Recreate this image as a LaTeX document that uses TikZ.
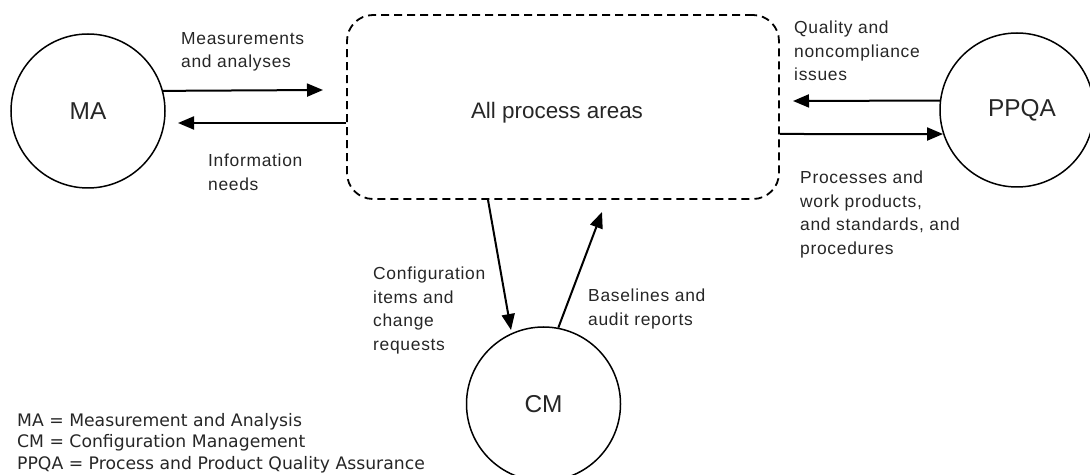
\documentclass[tikz,border=0pt]{standalone}
\usepackage{fontspec}
\setmainfont{Liberation Sans}
\newfontfamily\legendfont{DejaVu Sans}
\newfontfamily\labfont[LetterSpace=4]{Liberation Sans}
\usetikzlibrary{arrows.meta,calc}
\definecolor{ink}{HTML}{262626}

\begin{document}
\begin{tikzpicture}[x=1bp,y=-1bp,
  area/.style={circle, draw, line width=1.5bp, minimum size=154bp, inner sep=0pt,
    font=\fontsize{24.5}{28}\selectfont, text=ink},
  flow/.style={line width=2bp, -{Triangle[length=16bp,width=13bp]}},
  lbl/.style={anchor=north west, inner sep=0pt, align=left, text=ink,
    font=\labfont\fontsize{17.5}{23.5}\selectfont},
]
\useasboundingbox (0,0) rectangle (1090,475);
\clip (0,0) rectangle (1090,475);

% process groups
\node[area] (ma)   at (88,111)    {MA};
\node[area] (ppqa) at (1017,110)  {\hspace*{10bp}PPQA};
\node[area] (cm)   at (543.5,404) {CM};

% the dashed container for all process areas
\node[draw, dashed, line width=1.8bp, dash pattern=on 8bp off 5bp,
      rounded corners=26bp, minimum width=432bp, minimum height=184bp,
      inner sep=0pt] (box) at (563,107) {};
\node[font=\fontsize{22.5}{26}\selectfont, text=ink] (boxtext) at (557,113) {All process areas};

% free arrow ends
\coordinate (maIn)   at (323,90);
\coordinate (maOut)  at (178,123);
\coordinate (qaIn)   at (793,101);
\coordinate (cmTip)  at (511,330);
\coordinate (cmOut)  at (602,212);

% flows
\draw[flow] (ma.15.6) -- (maIn);
\draw[flow] ($(box.west)+(0,16)$) -- (maOut);
\draw[flow] (ppqa.173.3) -- (qaIn);
\draw[flow] ($(box.east)+(0,27)$) -- (ppqa.198.2);
\draw[flow] ($(box.south)+(-75,0)$) -- (cmTip);
\draw[flow] (cm.79.5) -- (cmOut);

% flow labels
\node[lbl] (l1) at (181,32)  {Measurements\\and analyses};
\node[lbl] (l2) at (208,154) {Information\\needs};
\node[lbl] (l3) at (794,21)  {Quality and\\noncompliance\\issues};
\node[lbl] (l4) at (800,171) {Processes and\\work products,\\and standards, and\\procedures};
\node[lbl] (l5) at (373,267) {Configuration\\items and\\change\\requests};
\node[lbl] (l6) at (588,289) {Baselines and\\audit reports};

% legend
\node[anchor=north west, inner sep=0pt, align=left, text=ink,
      font=\legendfont\fontsize{17.3}{21.5}\selectfont] (legend) at (17,413)
  {MA = Measurement and Analysis\\CM = Configuration Management\\PPQA = Process and Product Quality Assurance};
\end{tikzpicture}
\end{document}
